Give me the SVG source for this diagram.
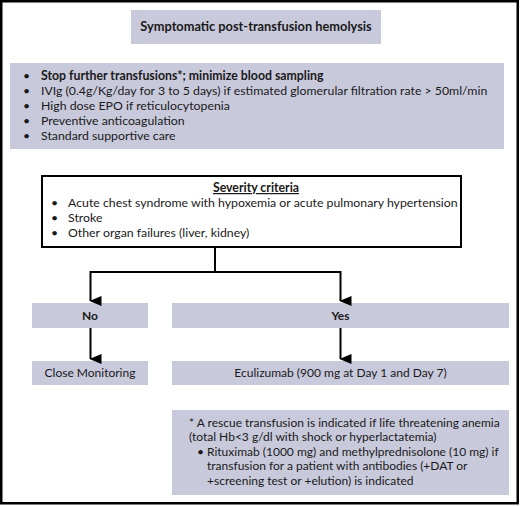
<svg xmlns="http://www.w3.org/2000/svg" width="520" height="506" viewBox="0 0 520 506">
<defs>
<style>
text{font-family:Lato,"Open Sans","Liberation Sans",sans-serif;font-size:12px;fill:#1a1a1a}
.b{font-weight:bold}
.c{text-anchor:middle}
.m{font-size:12.3px}
.fill{fill:#c8c9db}
.ln{stroke:#000;stroke-width:2;fill:none}
</style>
<marker id="ah" viewBox="0 0 10 12" refX="5" refY="11" markerWidth="10" markerHeight="12" markerUnits="userSpaceOnUse" orient="auto-start-reverse">
<path d="M0,0 L10,0 L5,12 Z" fill="#000"/>
</marker>
</defs>
<rect x="0" y="0" width="520" height="506" fill="#fff"/>
<rect x="1.25" y="1.25" width="516.5" height="502" fill="none" stroke="#000" stroke-width="2.5"/>

<g id="title">
<rect class="fill" x="131" y="10" width="250" height="34"/>
<text class="b c" x="256" y="31" style="font-size:12.8px">Symptomatic post-transfusion hemolysis</text>
</g>

<g id="measures">
<rect class="fill" x="10" y="63" width="494" height="86"/>
<text class="m" x="23" y="80">•</text><text class="b m" x="41" y="80">Stop further transfusions*; minimize blood sampling</text>
<text class="m" x="23" y="95">•</text><text class="m" x="41" y="95">IVIg (0.4g/Kg/day for 3 to 5 days) if estimated glomerular filtration rate &gt; 50ml/min</text>
<text class="m" x="23" y="110">•</text><text class="m" x="41" y="110">High dose  EPO if reticulocytopenia</text>
<text class="m" x="23" y="125">•</text><text class="m" x="41" y="125">Preventive anticoagulation</text>
<text class="m" x="23" y="140">•</text><text class="m" x="41" y="140">Standard supportive care</text>
</g>

<g id="severity">
<rect x="42" y="176" width="419" height="71" fill="#fff" stroke="#000" stroke-width="2"/>
<text class="b c m" x="256" y="192" text-decoration="underline">Severity criteria</text>
<text class="m" x="51" y="207">•</text><text class="m" x="68" y="207">Acute chest syndrome with hypoxemia or acute pulmonary hypertension</text>
<text class="m" x="51" y="222">•</text><text class="m" x="68" y="222">Stroke</text>
<text class="m" x="51" y="237">•</text><text class="m" x="68" y="237">Other organ failures (liver, kidney)</text>
</g>

<g id="no">
<rect class="fill" x="32" y="303" width="116" height="25"/>
<text class="b c" x="90" y="320">No</text>
</g>
<g id="yes">
<rect class="fill" x="172" y="303" width="337" height="25"/>
<text class="b c" x="340.5" y="320">Yes</text>
</g>
<g id="monitoring">
<rect class="fill" x="32" y="361" width="116" height="24"/>
<text class="c" x="90" y="377">Close Monitoring</text>
</g>
<g id="eculizumab">
<rect class="fill" x="172" y="361" width="337" height="24"/>
<text class="c" x="340.5" y="377">Eculizumab (900 mg at Day 1 and Day 7)</text>
</g>

<g id="footnote">
<rect class="fill" x="172" y="410" width="337" height="85"/>
<text x="189" y="427">* A rescue transfusion is indicated if life threatening anemia</text>
<text x="189" y="441">(total Hb&lt;3 g/dl with shock or hyperlactatemia)</text>
<text x="197" y="456">•</text><text x="207" y="456">Rituximab (1000 mg) and methylprednisolone (10 mg) if</text>
<text x="207" y="470">transfusion for a patient with antibodies (+DAT or</text>
<text x="207" y="485">+screening test or +elution) is indicated</text>
</g>

<g id="connectors">
<path class="ln" d="M215,247 V272"/>
<path class="ln" d="M90.5,301 V272 H340.5 V301" marker-end="url(#ah)" marker-start="url(#ah)"/>
<path class="ln" d="M90.5,328 V359" marker-end="url(#ah)"/>
<path class="ln" d="M340.5,328 V359" marker-end="url(#ah)"/>
</g>
</svg>
